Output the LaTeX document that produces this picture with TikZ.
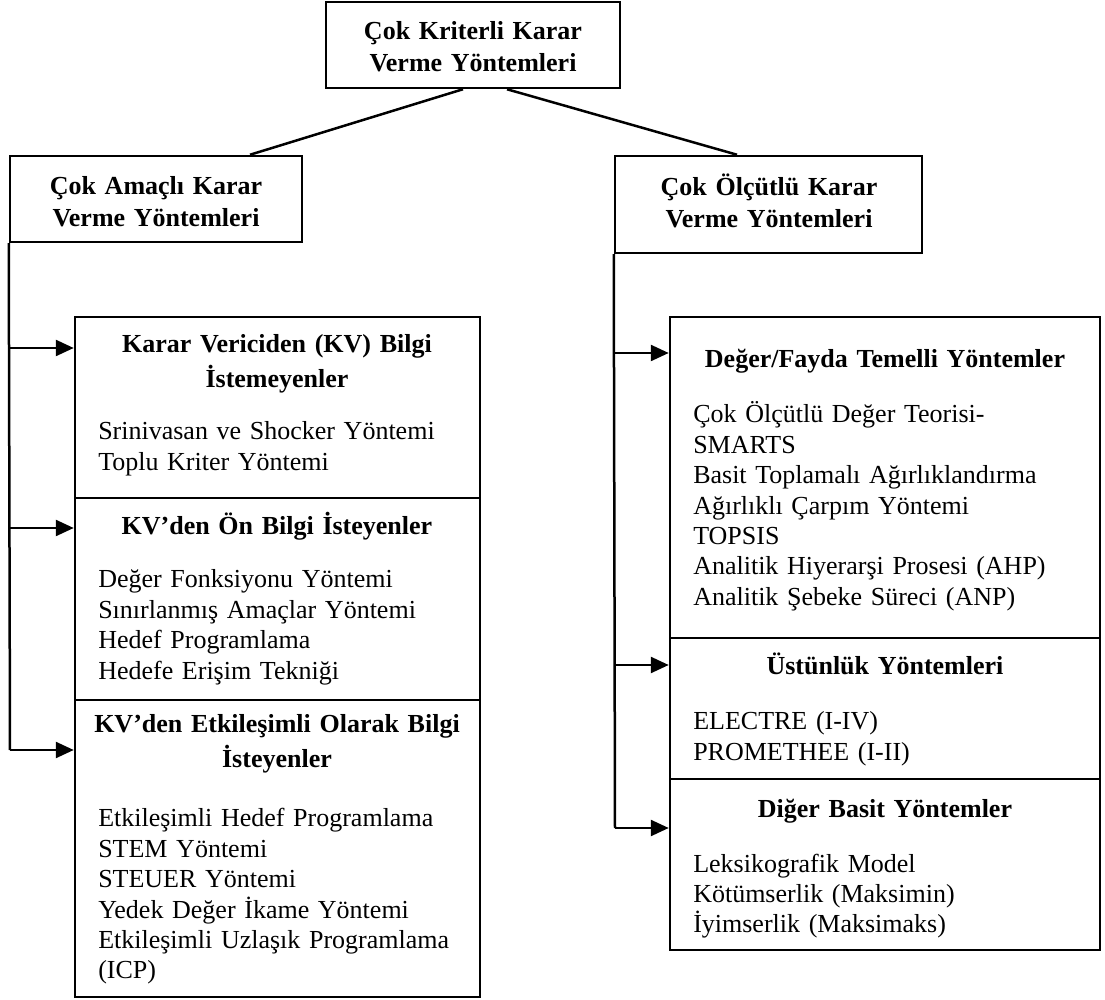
\documentclass[tikz,border=0pt]{standalone}
\usepackage{fontspec}
\setmainfont{Liberation Serif}
\usetikzlibrary{arrows.meta,calc,fit}
\tikzset{
  kutu/.style={draw,inner sep=0pt},
  ust/.style={inner sep=0pt,anchor=base,text width=150pt,align=center,font=\fontsize{13}{15.7}\selectfont\bfseries},
  baslik/.style={inner sep=0pt,anchor=base,text width=195pt,align=center,font=\fontsize{13}{17.5}\selectfont\bfseries},
  liste/.style={inner sep=0pt,anchor=base west,text width=205pt,align=left,font=\fontsize{13}{15.2}\selectfont}
}
\begin{document}
\begin{tikzpicture}[x=0.5pt,y=-0.5pt,line width=1.25pt,>={Triangle[length=9pt,width=8pt]}]
\useasboundingbox (0,0) rectangle (1105,1000);
\node[kutu,fit={(326,2)(620,88)}](ana){};
\node[ust](anay) at (473,40){Çok Kriterli Karar\\Verme Yöntemleri};
\node[kutu,fit={(10,156)(302,242)}](sol){};
\node[ust](soly) at (156,195){Çok Amaçlı Karar\\Verme Yöntemleri};
\node[kutu,fit={(615,156)(922,253)}](sag){};
\node[ust](sagy) at (769,196){Çok Ölçütlü Karar\\Verme Yöntemleri};
\draw(ana.south -| 463,0)--(sol.north -| 250,0);
\draw(ana.south -| 507,0)--(sag.north -| 737,0);

\node[kutu,fit={(75,317)(480,498)}](k1){};
\node[kutu,fit={(75,498)(480,700)}](k2){};
\node[kutu,fit={(75,700)(480,997)}](k3){};
\node[baslik](k1b) at (277,353){Karar Vericiden (KV) Bilgi\\İstemeyenler};
\node[liste](k1l) at (97,440){Srinivasan ve Shocker Yöntemi\\Toplu Kriter Yöntemi};
\node[baslik](k2b) at (277,535){KV’den Ön Bilgi İsteyenler};
\node[liste](k2l) at (97,588){Değer Fonksiyonu Yöntemi\\Sınırlanmış Amaçlar Yöntemi\\Hedef Programlama\\Hedefe Erişim Tekniği};
\node[baslik](k3b) at (277,733){KV’den Etkileşimli Olarak Bilgi\\İsteyenler};
\node[liste](k3l) at (97,827){Etkileşimli Hedef Programlama\\STEM Yöntemi\\STEUER Yöntemi\\Yedek Değer İkame Yöntemi\\Etkileşimli Uzlaşık Programlama\\(ICP)};

\node[kutu,fit={(670,317)(1100,638)}](d1){};
\node[kutu,fit={(670,638)(1100,779)}](d2){};
\node[kutu,fit={(670,779)(1100,950)}](d3){};
\node[baslik](d1b) at (885,368){Değer/Fayda Temelli Yöntemler};
\node[liste](d1l) at (692,423){Çok Ölçütlü Değer Teorisi-\\SMARTS\\Basit Toplamalı Ağırlıklandırma\\Ağırlıklı Çarpım Yöntemi\\TOPSIS\\Analitik Hiyerarşi Prosesi (AHP)\\Analitik Şebeke Süreci (ANP)};
\node[baslik](d2b) at (885,675){Üstünlük Yöntemleri};
\node[liste](d2l) at (692,730){ELECTRE (I-IV)\\PROMETHEE (I-II)};
\node[baslik](d3b) at (885,817){Diğer Basit Yöntemler};
\node[liste](d3l) at (692,872){Leksikografik Model\\Kötümserlik (Maksimin)\\İyimserlik (Maksimaks)};

\coordinate(s1) at (10,348);
\coordinate(s2) at (10,528);
\coordinate(s3) at (10,750);
\draw(sol.south west)--(s3);
\draw[->](s1)--(s1 -| k1.west);
\draw[->](s2)--(s2 -| k2.west);
\draw[->](s3)--(s3 -| k3.west);

\coordinate(r1) at (615,353);
\coordinate(r2) at (615,665);
\coordinate(r3) at (615,828);
\draw(sag.south west)--(r3);
\draw[->](r1)--(r1 -| d1.west);
\draw[->](r2)--(r2 -| d2.west);
\draw[->](r3)--(r3 -| d3.west);
\end{tikzpicture}
\end{document}
